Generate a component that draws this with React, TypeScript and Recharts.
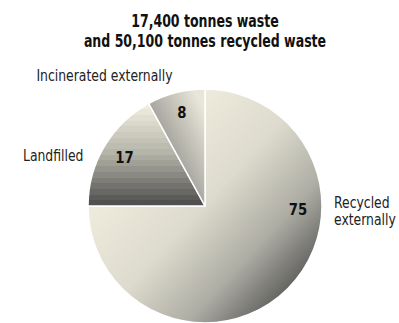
import React from 'react';
import { PieChart, Pie, Cell } from 'recharts';

const categories = ['Recycled externally', 'Landfilled', 'Incinerated externally'];
const shares = [75, 17, 8];
const titleLines = ['17,400 tonnes waste', 'and 50,100 tonnes recycled waste'];

const data = categories.map((name, i) => ({ name, value: shares[i] }));

const FONT = '"DejaVu Sans Condensed", "Liberation Sans Narrow", sans-serif';
const RAD = Math.PI / 180;
const SQUEEZE = 0.92; // the original type is narrower than anything installed

// where each label sits (angle in degrees, distance from centre)
const labelPlace: Record<string, { nameAngle: number; nameR: number; anchor: 'start' | 'end'; dy: number; valueAngle: number; valueR: number }> = {
  'Recycled externally': { nameAngle: 0, nameR: 129, anchor: 'start', dy: 2, valueAngle: -2.5, valueR: 93 },
  Landfilled: { nameAngle: 157, nameR: 132, anchor: 'end', dy: 7, valueAngle: 149, valueR: 94 },
  'Incinerated externally': { nameAngle: 104, nameR: 134, anchor: 'end', dy: 5, valueAngle: 104, valueR: 96 },
};

const fills = ['url(#gradRecycled)', 'url(#gradLandfill)', 'url(#gradIncin)'];

function mix(a: number[], b: number[], t: number) {
  const c = a.map((v, i) => Math.round(v + (b[i] - v) * t));
  return `rgb(${c[0]},${c[1]},${c[2]})`;
}

// banded vertical gradient for the landfill slice
const BANDS = 18;
const bandStops: { offset: string; color: string }[] = [];
for (let i = 0; i < BANDS; i++) {
  const t = i / (BANDS - 1);
  const color =
    t < 0.5
      ? mix([239, 237, 223], [178, 177, 166], t / 0.5)
      : mix([178, 177, 166], [80, 80, 80], (t - 0.5) / 0.5);
  bandStops.push({ offset: `${(i / BANDS) * 100}%`, color });
  bandStops.push({ offset: `${((i + 1) / BANDS) * 100}%`, color });
}

const renderLabel = (props: any) => {
  const { cx, cy, name, value } = props;
  const p = labelPlace[name];
  const nx = cx + p.nameR * Math.cos(p.nameAngle * RAD);
  const ny = cy - p.nameR * Math.sin(p.nameAngle * RAD);
  const vx = cx + p.valueR * Math.cos(p.valueAngle * RAD);
  const vy = cy - p.valueR * Math.sin(p.valueAngle * RAD);
  const words = name === 'Recycled externally' ? ['Recycled', 'externally'] : [name];
  return (
    <g>
      <text
        transform={`translate(${vx},${vy}) scale(${SQUEEZE},1)`}
        textAnchor="middle"
        dominantBaseline="central"
        fontFamily={FONT}
        fontWeight="bold"
        fontSize={16}
        fill="#111"
      >
        {value}
      </text>
      <text
        transform={`translate(${nx},${ny}) scale(${SQUEEZE},1)`}
        textAnchor={p.anchor}
        fontFamily={FONT}
        fontSize={15}
        fill="#222"
      >
        {words.map((w, i) => (
          <tspan key={w} x={0} dy={i === 0 ? p.dy : 17}>
            {w}
          </tspan>
        ))}
      </text>
    </g>
  );
};

export default function App() {
  return (
    <div style={{ position: 'absolute', left: 0, top: 0, width: 399, height: 323, background: '#fff' }}>
      <div
        style={{
          position: 'absolute',
          left: 0,
          top: 11,
          width: 410,
          textAlign: 'center',
          fontFamily: FONT,
          fontWeight: 'bold',
          fontSize: 17,
          lineHeight: '20px',
          color: '#111',
          transform: 'scaleX(0.82)',
          transformOrigin: '205px 0',
        }}
      >
        {titleLines.map((t) => (
          <div key={t}>{t}</div>
        ))}
      </div>
      <PieChart width={399} height={323} margin={{ top: 0, right: 0, bottom: 0, left: 0 }}>
        <defs>
          <linearGradient id="gradRecycled" x1="0.25" y1="0.2" x2="0.95" y2="0.85">
            <stop offset="0%" stopColor="#f0eddf" />
            <stop offset="40%" stopColor="#dddbcd" />
            <stop offset="70%" stopColor="#aeada4" />
            <stop offset="100%" stopColor="#4e4e4e" />
          </linearGradient>
          <linearGradient id="gradLandfill" x1="0" y1="0" x2="0" y2="1">
            {bandStops.map((s, i) => (
              <stop key={i} offset={s.offset} stopColor={s.color} />
            ))}
          </linearGradient>
          <linearGradient id="gradIncin" x1="0.1" y1="0.95" x2="0.9" y2="0.1">
            <stop offset="0%" stopColor="#505050" />
            <stop offset="35%" stopColor="#9a9993" />
            <stop offset="100%" stopColor="#e8e6d9" />
          </linearGradient>
        </defs>
        <Pie
          data={data}
          dataKey="value"
          nameKey="name"
          cx={205}
          cy={206}
          outerRadius={117}
          startAngle={90}
          endAngle={-270}
          stroke="#fff"
          strokeWidth={1.5}
          label={renderLabel}
          labelLine={false}
          isAnimationActive={false}
        >
          {data.map((d, i) => (
            <Cell key={d.name} fill={fills[i]} />
          ))}
        </Pie>
      </PieChart>
    </div>
  );
}
